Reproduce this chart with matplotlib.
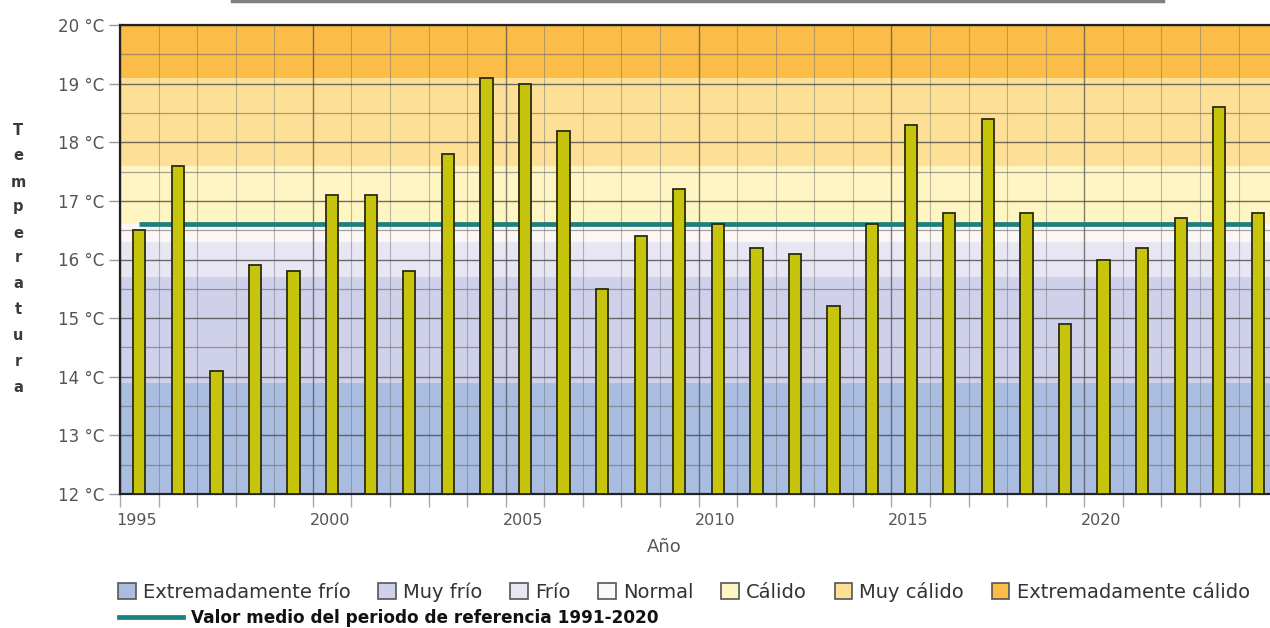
import matplotlib.pyplot as plt
import numpy as np
from matplotlib.patches import Patch
from matplotlib.lines import Line2D
from matplotlib.ticker import MultipleLocator
import matplotlib.transforms as mtransforms

# annual mean temperature
years = list(range(1995, 2025))
temps = [16.5, 17.6, 14.1, 15.9, 15.8, 17.1, 17.1, 15.8, 17.8, 19.1,
         19.0, 18.2, 15.5, 16.4, 17.2, 16.6, 16.2, 16.1, 15.2, 16.6,
         18.3, 16.8, 18.4, 16.8, 14.9, 16.0, 16.2, 16.7, 18.6, 16.8]
ref_mean = 16.6
ref_label = 'Valor medio del periodo de referencia 1991-2020'

# classification bands
band_names = ['Extremadamente frío', 'Muy frío', 'Frío', 'Normal',
              'Cálido', 'Muy cálido', 'Extremadamente cálido']
band_limits = [12, 13.9, 15.7, 16.3, 16.6, 17.6, 19.1, 20]
band_colors = ['#a9bde1', '#cfd0ea', '#e8e6f2', '#fcf6f5',
               '#fff5c2', '#fde095', '#fbbc48']

W, H = 1270, 628
fig = plt.figure(figsize=(W / 100, H / 100), dpi=100)
ax = fig.add_axes([120 / W, 1 - 494 / H, 1150 / W, 469 / H])

for lo, hi, c in zip(band_limits[:-1], band_limits[1:], band_colors):
    ax.axhspan(lo, hi, color=c, lw=0, zorder=0)

x = np.array(years) + 0.5
ax.bar(x, [t - 12 for t in temps], bottom=12, width=0.32,
       color='#c6c40c', edgecolor='#2b2b10', linewidth=1.3, zorder=3)
ax.hlines(ref_mean, x[0], x[-1], color='#1a8080', lw=3.4, zorder=2)

ax.set_xlim(1995, 1995 + 1150 / 38.57)
ax.set_ylim(12, 20)

ax.xaxis.set_major_locator(MultipleLocator(5))
ax.xaxis.set_minor_locator(MultipleLocator(1))
ax.yaxis.set_major_locator(MultipleLocator(1))
ax.yaxis.set_minor_locator(MultipleLocator(0.5))
ax.set_yticklabels([f'{int(v)} °C' for v in ax.get_yticks()])

ax.grid(axis='y', which='major', color='#4a4a4a', lw=1.0, alpha=0.8, zorder=1)
ax.grid(axis='y', which='minor', color='#6a6a6a', lw=0.9, alpha=0.6, zorder=1)
ax.grid(axis='x', which='major', color='#4a4a4a', lw=1.0, alpha=0.7, zorder=1)
ax.grid(axis='x', which='minor', color='#777777', lw=0.8, alpha=0.5, zorder=1)

ax.tick_params(axis='y', which='major', length=8, width=1, color='#999999',
               labelsize=12, labelcolor='#555555', pad=3.5)
ax.tick_params(axis='y', which='minor', length=0)
ax.tick_params(axis='x', which='both', length=9, width=1, color='#aaaaaa',
               labelsize=11.5, labelcolor='#555555', pad=5)
off = mtransforms.ScaledTranslation(17 / 100, 0, fig.dpi_scale_trans)
for lab in ax.get_xticklabels():
    lab.set_transform(lab.get_transform() + off)

for s in ['left', 'bottom', 'top']:
    ax.spines[s].set_color('#222222')
    ax.spines[s].set_linewidth(1.6)
ax.spines['right'].set_visible(False)

ax.set_xlabel('Año', fontsize=13, color='#555555', labelpad=1)
ax.xaxis.set_label_coords((664 - 120) / 1150, -0.094)

# vertical axis title, one letter per line
ys = [130, 155, 182, 207, 233, 257, 283, 310, 335, 362, 387]
for ch, yy in zip('Temperatura', ys):
    fig.text(18 / W, 1 - yy / H, ch, ha='center', va='center',
             fontsize=10.5, fontweight='bold', color='#3a3a3a')

# grey rule at the very top
fig.add_artist(Line2D([232 / W, 1163 / W], [1 - 1 / H] * 2,
                      transform=fig.transFigure, color='#808080', lw=2.5))

handles = [Patch(facecolor=c, edgecolor='#555555', lw=1.2) for c in band_colors]
fig.legend(handles, band_names, loc='center left',
           bbox_to_anchor=(118 / W, 1 - 592 / H), ncol=7, frameon=False,
           fontsize=14, handlelength=0.9, handleheight=0.9,
           handletextpad=0.38, columnspacing=1.42, borderpad=0,
           borderaxespad=0, labelcolor='#333333')
fig.legend([Line2D([], [], color='#1a8080', lw=3.4)], [ref_label],
           loc='center left', bbox_to_anchor=(119 / W, 1 - 618 / H),
           frameon=False, prop={'weight': 'bold', 'size': 12.2},
           handlelength=3.8, handletextpad=0.42, borderpad=0,
           borderaxespad=0, labelcolor='#111111')

fig.savefig('out.png', dpi=100)
